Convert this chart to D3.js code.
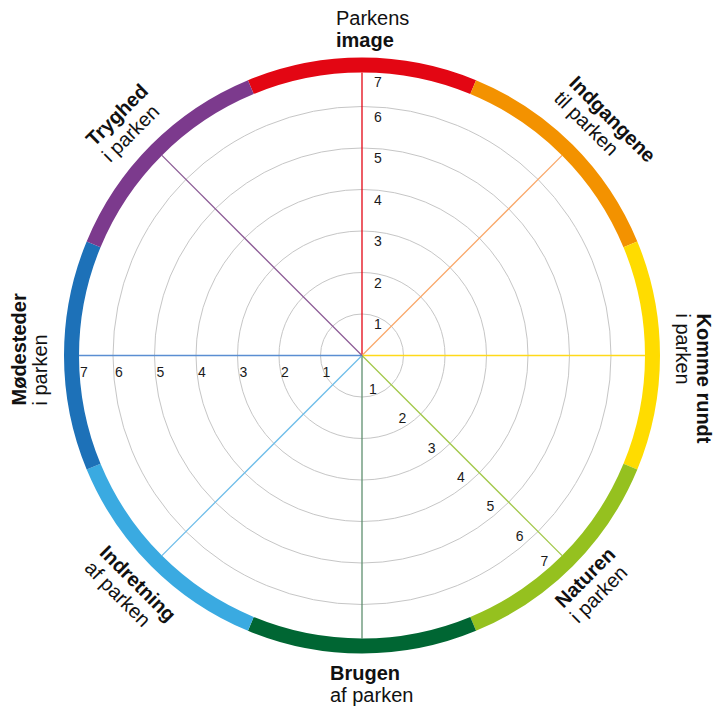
<!DOCTYPE html>
<html><head><meta charset="utf-8">
<script src="https://cdn.jsdelivr.net/npm/d3@7"></script>
<style>html,body{margin:0;padding:0;background:#fff;}svg{display:block;font-family:"Liberation Sans",Arial,Helvetica,sans-serif;}</style>
</head><body>
<svg id="chart" width="715" height="708"></svg>
<script>
// ---- data ----
const categories = ["Parkens image","Indgangene til parken","Komme rundt i parken","Naturen i parken","Brugen af parken","Indretning af parken","Mødesteder i parken","Tryghed i parken"];
const labelLine1 = ["Parkens","Indgangene","Komme rundt","Naturen","Brugen","Indretning","Mødesteder","Tryghed"];
const labelLine2 = ["image","til parken","i parken","i parken","af parken","af parken","i parken","i parken"];
const boldLine   = [2,1,1,1,1,1,1,1];
const tickValues = [1,2,3,4,5,6,7];
const tickAxes   = [0,3,6]; // axes carrying the scale numbers

// ---- styles ----
const ringColors = ["#e30613","#f39200","#ffdc00","#95c11f","#006633","#3aaae1","#1d71b8","#7c3a8d"];
const axisColors = ["#e30613","#f9a86a","#ffd91a","#a2c84a","#5f8f6f","#6fbde9","#5a8ed2","#8c5c96"];

// ---- layout ----
const W = 715, H = 708, cx = 362, cy = 355.5;
const r = d3.scaleLinear().domain([0, 7]).range([0, 290.5]);
const ringW = 15;
const ringIn = r(7) - ringW/2, ringOut = r(7) + ringW/2;
const FS = 20;
// per-label placement: rotation, tangential start, baseline radius of line1/line2
const labelLayout = [
  {rot:0,   t:-26, n1:330.5, n2:308.5, up:true},
  {rot:45,  t:-46, n1:337.5, n2:316,   up:true},
  {rot:90,  t:-42, n1:335,   n2:314,   up:true},
  {rot:-45, t:-37, n1:321.5, n2:343,   up:false},
  {rot:0,   t:-32, n1:324.5, n2:346.5, up:false},
  {rot:45,  t:-46, n1:326.5, n2:348,   up:false},
  {rot:-90, t:-50, n1:336.5, n2:315,   up:true},
  {rot:-45, t:-42, n1:336.5, n2:314,   up:true}
];
const tickExtra = {0:0, 3:0, 6:4};

const svg = d3.select("#chart");
const g = svg.append("g").attr("transform", `translate(${cx},${cy})`);
const n = categories.length;
const step = 2*Math.PI/n;
const ang = i => i*step; // clockwise from top

// grid circles
g.selectAll("circle.grid").data(tickValues.filter(v => v < 7)).join("circle")
  .attr("class","grid").attr("r", d => r(d))
  .attr("fill","none").attr("stroke","#c6c6c6").attr("stroke-width",1);

// axes
g.selectAll("line.axis").data(categories).join("line")
  .attr("class","axis")
  .attr("x1",0).attr("y1",0)
  .attr("x2",(d,i)=> Math.sin(ang(i))*ringIn)
  .attr("y2",(d,i)=> -Math.cos(ang(i))*ringIn)
  .attr("stroke",(d,i)=>axisColors[i]).attr("stroke-width",1.3);

// ring
const arc = d3.arc().innerRadius(ringIn).outerRadius(ringOut);
g.selectAll("path.ring").data(categories).join("path")
  .attr("class","ring")
  .attr("d",(d,i)=>arc({startAngle: ang(i)-step/2, endAngle: ang(i)+step/2}))
  .attr("fill",(d,i)=>ringColors[i]);

// tick labels
const side = {0:[1,0], 3:[-1,1], 6:[0,1]};
tickAxes.forEach(ai => {
  const a = ang(ai);
  const dx = Math.sin(a), dy = -Math.cos(a);
  const s = side[ai];
  const sl = Math.hypot(s[0], s[1]);
  const ox = s[0]/sl*16, oy = s[1]/sl*16;
  const rr = d => Math.min(r(d)-10, ringIn-9) + tickExtra[ai];
  g.selectAll(null).data(tickValues).join("text")
    .attr("x", d => dx*rr(d) + ox)
    .attr("y", d => dy*rr(d) + oy)
    .attr("text-anchor","middle").attr("dominant-baseline","central")
    .attr("font-size",14).attr("fill","#1a1a1a")
    .text(d => d);
});

// category labels
categories.forEach((c,i) => {
  const L = labelLayout[i];
  const lg = g.append("g").attr("transform", `rotate(${L.rot})`);
  const lines = [labelLine1[i], labelLine2[i]];
  const ns = [L.n1, L.n2];
  lines.forEach((txt, k) => {
    lg.append("text")
      .attr("x", L.t)
      .attr("y", L.up ? -ns[k] : ns[k])
      .attr("font-size", FS)
      .attr("font-weight", boldLine[i] === k+1 ? "bold" : "normal")
      .attr("fill","#111")
      .text(txt);
  });
});
</script>
</body></html>
